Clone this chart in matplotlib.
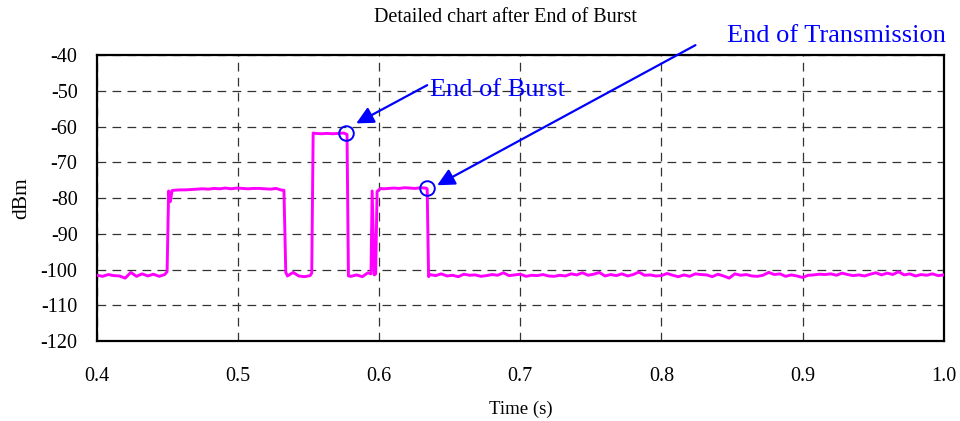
import numpy as np
import matplotlib.pyplot as plt

# signal trace, piecewise (time in s, level in dBm)
t_noise1 = np.linspace(0.400, 0.448, 13)
p_noise1 = [-101.6, -101.9, -101.4, -101.7, -101.8, -102.4, -100.8, -101.9,
            -101.2, -101.8, -101.3, -101.9, -101.4]
t_edge1 = [0.4497, 0.4508, 0.4520, 0.4532]
p_edge1 = [-100.6, -78.0, -81.0, -77.9]
t_burst1 = np.linspace(0.455, 0.531, 20)
p_burst1 = [-77.8, -77.7, -77.7, -77.6, -77.5, -77.4, -77.5, -77.3, -77.4, -77.2,
            -77.4, -77.2, -77.3, -77.4, -77.3, -77.3, -77.4, -77.5, -77.3, -77.8]
t_edge2 = [0.5325, 0.5338]
p_edge2 = [-77.8, -100.8]
t_noise2 = np.linspace(0.535, 0.551, 5)
p_noise2 = [-101.8, -100.8, -101.8, -102.0, -101.7]
t_edge3 = [0.5522, 0.5532]
p_edge3 = [-101.0, -61.8]
t_burst2 = np.linspace(0.555, 0.575, 6)
p_burst2 = [-61.9, -62.0, -61.9, -62.0, -61.9, -61.8]
t_edge4 = [0.5772, 0.5782]
p_edge4 = [-62.2, -101.8]
t_noise3 = np.linspace(0.580, 0.592, 4)
p_noise3 = [-101.9, -101.5, -102.0, -100.9]
t_spike = [0.5942, 0.5950, 0.5965, 0.5975, 0.5985, 0.6000, 0.6012]
p_spike = [-101.2, -78.0, -101.5, -101.2, -78.2, -77.6, -77.3]
t_burst3 = np.linspace(0.603, 0.633, 9)
p_burst3 = [-77.4, -77.3, -77.2, -77.3, -77.1, -77.2, -77.3, -77.1, -77.2]
t_edge5 = [0.6340, 0.6350]
p_edge5 = [-77.4, -102.0]
t_noise4 = np.linspace(0.636, 1.000, 92)
p_noise4 = [-101.4, -101.7, -101.2, -101.8, -101.6, -102.0, -101.3, -101.6,
            -101.5, -101.9, -101.7, -101.4, -101.6, -100.9, -101.7, -101.5,
            -101.3, -101.9, -101.6, -101.7, -101.4, -101.8, -101.9, -101.6,
            -101.8, -101.2, -101.5, -100.9, -101.6, -101.3, -100.8, -101.8,
            -101.4, -101.7, -101.2, -101.8, -101.4, -100.7, -101.6, -101.5,
            -101.8, -101.7, -101.1, -101.6, -102.0, -101.5, -101.9, -101.2,
            -101.4, -101.5, -102.0, -101.3, -101.8, -102.4, -101.2, -101.6,
            -101.4, -101.8, -101.9, -101.6, -100.8, -101.4, -101.2, -101.9,
            -101.5, -101.8, -102.2, -101.6, -101.5, -101.3, -101.4, -101.2,
            -101.6, -101.0, -101.4, -101.7, -101.5, -101.8, -101.3, -100.9,
            -101.5, -101.0, -101.4, -100.6, -101.5, -101.2, -101.8, -101.4,
            -101.6, -101.2, -101.7, -101.5]

time = np.concatenate([t_noise1, t_edge1, t_burst1, t_edge2, t_noise2, t_edge3,
                       t_burst2, t_edge4, t_noise3, t_spike, t_burst3, t_edge5,
                       t_noise4])
level = np.concatenate([p_noise1, p_edge1, p_burst1, p_edge2, p_noise2, p_edge3,
                        p_burst2, p_edge4, p_noise3, p_spike, p_burst3, p_edge5,
                        p_noise4])

# markers and arrows
end_burst_pt = (0.5764, -61.7)
end_tx_pt = (0.6340, -77.1)

plt.rcParams['font.family'] = ['Liberation Serif', 'DejaVu Serif']
plt.rcParams['axes.unicode_minus'] = False

fig = plt.figure(figsize=(9.6, 4.21), dpi=100)
ax = fig.add_axes([0.101, 0.19, 0.882, 0.679])

ax.plot(time, level, color='#ff00ff', lw=2.1, zorder=3)

ax.set_xlim(0.4, 1.0)
ax.set_ylim(-120, -40)
ax.set_xticks(np.arange(0.4, 1.01, 0.1))
ax.set_xticklabels(['0.4', '0.5', '0.6', '0.7', '0.8', '0.9', '1.0'])
ax.set_yticks(np.arange(-120, -39, 10))
ax.tick_params(length=0, labelsize=14.5)
ax.tick_params(axis='x', pad=19)
ax.tick_params(axis='y', pad=14)
ax.grid(True, color='#333333', linestyle=(0, (7, 5)), lw=0.9)
for s in ax.spines.values():
    s.set_linewidth(1.6)

fig.text(505 / 960, 1 - 17 / 421, 'Detailed chart after End of Burst',
         fontsize=14.5, ha='center', va='center')
ax.set_xlabel('Time (s)', fontsize=13.5, labelpad=10)
ax.set_ylabel('dBm', fontsize=15.5, labelpad=7)

# circles on the trace
for pt in (end_burst_pt, end_tx_pt):
    ax.plot(*pt, marker='o', ms=10.5, mfc='none', mec='blue', mew=1.4,
            zorder=4, clip_on=False)

arrow = dict(arrowstyle='-|>', color='blue', lw=1.6, mutation_scale=26,
             shrinkA=0, shrinkB=0)
ax.annotate('', xy=(0.5837, -59.1), xytext=(0.634, -48.4),
            arrowprops=arrow, annotation_clip=False)
ax.annotate('', xy=(0.6411, -76.4), xytext=(0.8241, -37.2),
            arrowprops=arrow, annotation_clip=False)
ax.text(0.6362, -49.8, 'End of Burst', color='blue', fontsize=19,
        va='center', ha='left')
ax.text(0.8468, -34.7, 'End of Transmission', color='blue', fontsize=19,
        va='center', ha='left', clip_on=False)

fig.savefig('out.png', dpi=100)
